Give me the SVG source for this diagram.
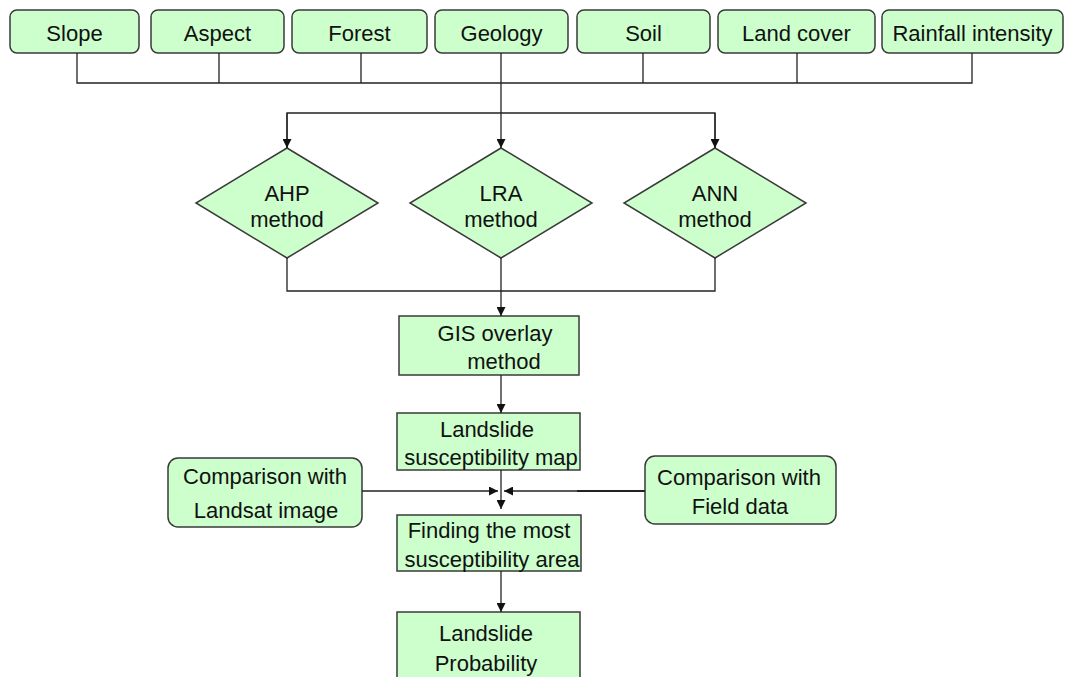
<svg xmlns="http://www.w3.org/2000/svg" width="1069" height="677" viewBox="0 0 1069 677">
  <style>
    .box { fill: #ccffcc; stroke: #3a3a3a; stroke-width: 1.5; }
    .lbl { font-family: "Liberation Sans", Arial, sans-serif; font-size: 22px; fill: #111; text-anchor: middle; }
    .wire { fill: none; stroke: #222; stroke-width: 1.3; }
  </style>
  <defs>
    <marker id="arrow" viewBox="0 0 10 10" refX="10" refY="5" markerWidth="10" markerHeight="9" markerUnits="userSpaceOnUse" orient="auto">
      <path d="M0,0 L10,5 L0,10 z" fill="#111"/>
    </marker>
  </defs>
  <rect width="1069" height="677" fill="#ffffff"/>

  <!-- input factors -->
  <g id="slope"><rect class="box" x="10" y="10" width="129" height="43" rx="7"/><text class="lbl" x="74.5" y="41">Slope</text></g>
  <g id="aspect"><rect class="box" x="151" y="10" width="133" height="43" rx="7"/><text class="lbl" x="217.5" y="41">Aspect</text></g>
  <g id="forest"><rect class="box" x="292" y="10" width="135" height="43" rx="7"/><text class="lbl" x="359.5" y="41">Forest</text></g>
  <g id="geology"><rect class="box" x="435" y="10" width="133" height="43" rx="7"/><text class="lbl" x="501.5" y="41">Geology</text></g>
  <g id="soil"><rect class="box" x="577" y="10" width="133" height="43" rx="7"/><text class="lbl" x="643.5" y="41">Soil</text></g>
  <g id="landcover"><rect class="box" x="718" y="10" width="157" height="43" rx="7"/><text class="lbl" x="796.5" y="41">Land cover</text></g>
  <g id="rainfall"><rect class="box" x="882" y="10" width="181" height="43" rx="7"/><text class="lbl" x="972.5" y="41">Rainfall intensity</text></g>

  <!-- methods -->
  <g id="ahp"><polygon class="box" points="287,148 378,203 287,258 196,203"/><text class="lbl" x="287" y="201">AHP</text><text class="lbl" x="287" y="227">method</text></g>
  <g id="lra"><polygon class="box" points="501,148 592,203 501,258 410,203"/><text class="lbl" x="501" y="201">LRA</text><text class="lbl" x="501" y="227">method</text></g>
  <g id="ann"><polygon class="box" points="715,148 806,203 715,258 624,203"/><text class="lbl" x="715" y="201">ANN</text><text class="lbl" x="715" y="227">method</text></g>

  <!-- processing chain -->
  <g id="gis"><rect class="box" x="399" y="316" width="180" height="59"/><text class="lbl" x="495" y="341">GIS overlay</text><text class="lbl" x="504" y="369">method</text></g>
  <g id="susmap"><rect class="box" x="397" y="413" width="183" height="57"/><text class="lbl" x="487" y="437">Landslide</text><text class="lbl" x="491" y="465">susceptibility map</text></g>
  <g id="landsat"><rect class="box" x="168" y="458" width="194" height="69" rx="10"/><text class="lbl" x="265" y="484">Comparison with</text><text class="lbl" x="266" y="518">Landsat image</text></g>
  <g id="field"><rect class="box" x="645" y="456" width="191" height="68" rx="10"/><text class="lbl" x="739" y="485">Comparison with</text><text class="lbl" x="740" y="514">Field data</text></g>
  <g id="finding"><rect class="box" x="397" y="515" width="184" height="56"/><text class="lbl" x="489" y="538">Finding the most</text><text class="lbl" x="492" y="567">susceptibility area</text></g>
  <g id="probability"><rect class="box" x="397" y="612" width="183" height="80"/><text class="lbl" x="486" y="641">Landslide</text><text class="lbl" x="486" y="671">Probability</text></g>

  <g id="connectors">
    <!-- factor bus -->
    <path class="wire" d="M77,53 V83 H972 V53 M219,53 V83 M361,53 V83 M501,53 V113 M643,53 V83 M797,53 V83"/>
    <path class="wire" d="M287,148 V113 H715 V148"/>
    <path class="wire" d="M287,113 V148" marker-end="url(#arrow)"/>
    <path class="wire" d="M501,113 V148" marker-end="url(#arrow)"/>
    <path class="wire" d="M715,113 V148" marker-end="url(#arrow)"/>
    <!-- merge of methods -->
    <path class="wire" d="M287,258 V291 H715 V258 M501,258 V291"/>
    <path class="wire" d="M501,291 V316" marker-end="url(#arrow)"/>
    <path class="wire" d="M501,375 V413" marker-end="url(#arrow)"/>
    <path class="wire" d="M501,470 V509" marker-end="url(#arrow)"/>
    <path class="wire" d="M362,491 H498" marker-end="url(#arrow)"/>
    <path class="wire" d="M645,491 H504" marker-end="url(#arrow)"/>
    <path d="M577,491 H645" stroke="#222" stroke-width="2.2"/>
    <path class="wire" d="M501,571 V612" marker-end="url(#arrow)"/>
  </g>
</svg>
